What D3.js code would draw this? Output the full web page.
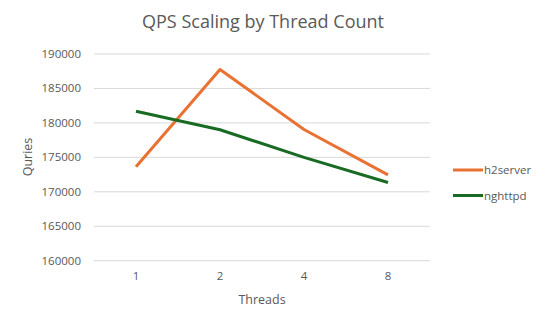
<!DOCTYPE html>
<html><head><meta charset="utf-8">
<script src="https://cdn.jsdelivr.net/npm/d3@7"></script>
<style>body{margin:0;background:#fff}svg{display:block}text{font-family:"Open Sans","Noto Sans",sans-serif;fill:#595959}</style>
</head><body><svg id="c" width="547" height="326"></svg>
<script>
const categories = ["1","2","4","8"];
const h2server = [173650, 187750, 179050, 172450];
const nghttpd = [181700, 179000, 175000, 171350];
const yTicks = [160000,165000,170000,175000,180000,185000,190000];
const seriesNames = ["h2server","nghttpd"];
const colors = ["#E97132","#196B24"];

const svg = d3.select("#c");
const x = d3.scaleBand().domain(categories).range([94,430]);
const y = d3.scaleLinear().domain([160000,190000]).range([260.7,54]);

svg.append("text").attr("x",263).attr("y",28).attr("text-anchor","middle").style("font-size","18px").text("QPS Scaling by Thread Count");

svg.append("g").selectAll("line").data(yTicks).join("line")
 .attr("x1",94).attr("x2",430).attr("y1",d=>y(d)).attr("y2",d=>y(d))
 .attr("stroke","#D9D9D9").attr("stroke-width",1);

svg.append("g").selectAll("text").data(yTicks).join("text")
 .attr("x",81).attr("y",d=>y(d)+4).attr("text-anchor","end").style("font-size","11.5px").text(d=>d);

svg.append("g").selectAll("text").data(categories).join("text")
 .attr("x",d=>x(d)+x.bandwidth()/2).attr("y",280).attr("text-anchor","middle").style("font-size","11.5px").text(d=>d);

svg.append("text").attr("x",262).attr("y",304).attr("text-anchor","middle").style("font-size","12.5px").text("Threads");
svg.append("text").attr("transform","translate(32,157) rotate(-90)").attr("text-anchor","middle").style("font-size","12.5px").text("Quries");

const line = d3.line().x((d,i)=>x(categories[i])+x.bandwidth()/2).y(d=>y(d));
[h2server,nghttpd].forEach((s,k)=>{
  svg.append("path").datum(s).attr("d",line).attr("fill","none").attr("stroke",colors[k]).attr("stroke-width",3).attr("stroke-linejoin","round");
});

const lg = svg.append("g");
seriesNames.forEach((n,k)=>{
  const yy = 170 + k*25.5;
  lg.append("line").attr("x1",453).attr("x2",483).attr("y1",yy).attr("y2",yy).attr("stroke",colors[k]).attr("stroke-width",3);
  lg.append("text").attr("x",484).attr("y",yy+4).style("font-size","11.5px").text(n);
});
</script></body></html>
